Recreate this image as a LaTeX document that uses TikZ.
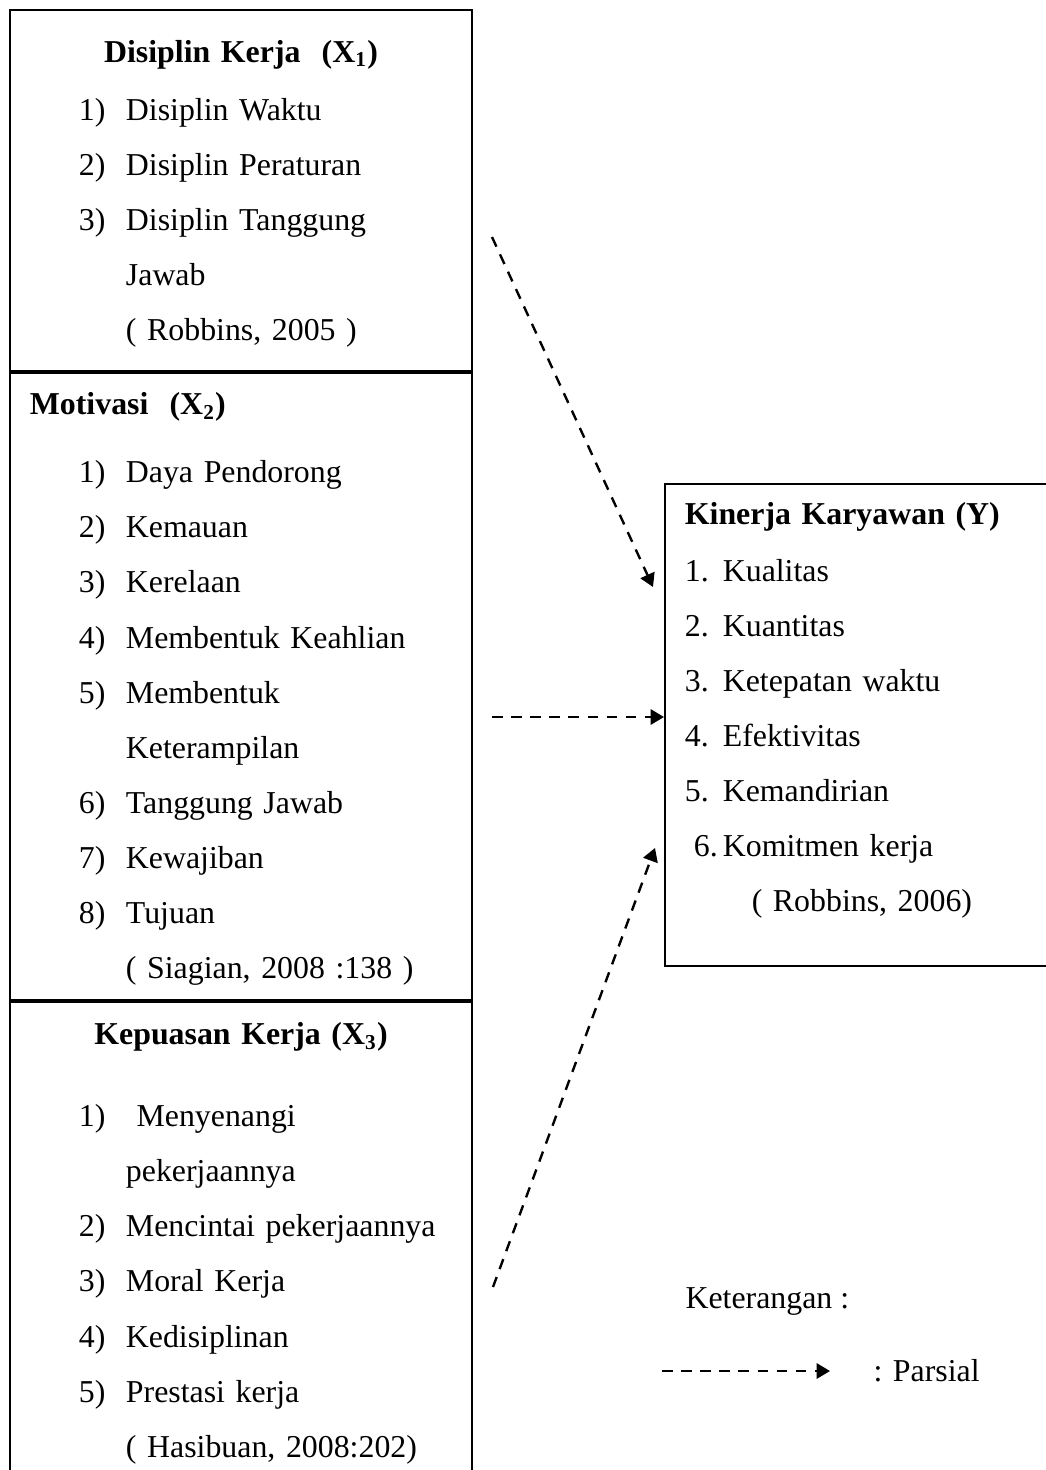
\documentclass[tikz,border=0pt]{standalone}
\usepackage{fontspec}
\setmainfont{Liberation Serif}
\usetikzlibrary{arrows.meta,positioning}
\newcommand{\butir}[2]{\hspace*{18.5pt}\makebox[17.7pt][l]{#1}#2}
\newcommand{\lanjut}[1]{\hspace*{36.2pt}#1}
\newcommand{\judul}[1]{\makebox[\linewidth][c]{\textbf{#1}}}
\newcommand{\poin}[2]{\makebox[14.3pt][l]{#1}#2}

\begin{document}
\begin{tikzpicture}[x=0.3768pt,y=-0.3768pt,font=\fontsize{12}{20.75}\selectfont,
 kotak/.style={draw,line width=0.75pt,align=left,anchor=north west,inner xsep=7.5pt,inner ysep=0pt},
 panah/.style={line width=0.9pt,dash pattern=on 4pt off 3.2pt,-{Triangle[length=5pt,width=5.7pt]}}]
\useasboundingbox (0,0) rectangle (1045,1470);
\node[kotak,text width=159.1pt,text height=19.6pt,text depth=116.4pt] (x1) at (9,9) {\judul{Disiplin Kerja\ \ (X\textsubscript{1})}\\[1.1pt]
\butir{1)}{Disiplin Waktu}\\
\butir{2)}{Disiplin Peraturan}\\
\butir{3)}{Disiplin Tanggung}\\
\lanjut{Jawab}\\
\lanjut{( Robbins, 2005 )}};
\node[kotak,text width=159.1pt,text height=15.8pt,text depth=220.4pt,below=0pt of x1] (x2) {\textbf{Motivasi\ \ (X\textsubscript{2})}\\[4.87pt]
\butir{1)}{Daya Pendorong}\\
\butir{2)}{Kemauan}\\
\butir{3)}{Kerelaan}\\
\butir{4)}{Membentuk Keahlian}\\
\butir{5)}{Membentuk}\\
\lanjut{Keterampilan}\\
\butir{6)}{Tanggung Jawab}\\
\butir{7)}{Kewajiban}\\
\butir{8)}{Tujuan}\\
\lanjut{( Siagian, 2008 :138 )}};
\node[kotak,text width=159.1pt,text height=16.2pt,text depth=173.3pt,below=0pt of x2] (x3) {\judul{Kepuasan Kerja (X\textsubscript{3})}\\[10.15pt]
\butir{1)}{\ Menyenangi}\\
\lanjut{pekerjaannya}\\
\butir{2)}{Mencintai pekerjaannya}\\
\butir{3)}{Moral Kerja}\\
\butir{4)}{Kedisiplinan}\\
\butir{5)}{Prestasi kerja}\\
\lanjut{( Hasibuan, 2008:202)}};
\node[kotak,text width=134.2pt,text height=15.1pt,text depth=166.5pt] (y) at (664,483) {\textbf{Kinerja Karyawan (Y)}\\[0.75pt]
\poin{1.}{Kualitas}\\
\poin{2.}{Kuantitas}\\
\poin{3.}{Ketepatan waktu}\\
\poin{4.}{Efektivitas}\\
\poin{5.}{Kemandirian}\\
\hspace*{3.4pt}\makebox[10.9pt][l]{6.}Komitmen kerja\\
\hspace*{25.2pt}( Robbins, 2006)};
% panah parsial
\coordinate (p1) at (492,237);
\coordinate (q1) at (653,587);
\coordinate (p2) at (492,717);
\coordinate (p3) at (493,1287);
\coordinate (q3) at (655,848);
\draw[panah] (p1)--(q1);
\draw[panah] (p2)--(p2 -| y.west);
\draw[panah] (p3)--(q3);
% keterangan
\node[anchor=base west,inner sep=0pt] (ket) at (685,1308) {Keterangan :};
\node[anchor=base west,inner sep=0pt] (parsial) at (873,1381) {: Parsial};
\coordinate (k1) at (662,1371);
\coordinate (k2) at (830,1371);
\draw[panah] (k1)--(k2);
\end{tikzpicture}
\end{document}
